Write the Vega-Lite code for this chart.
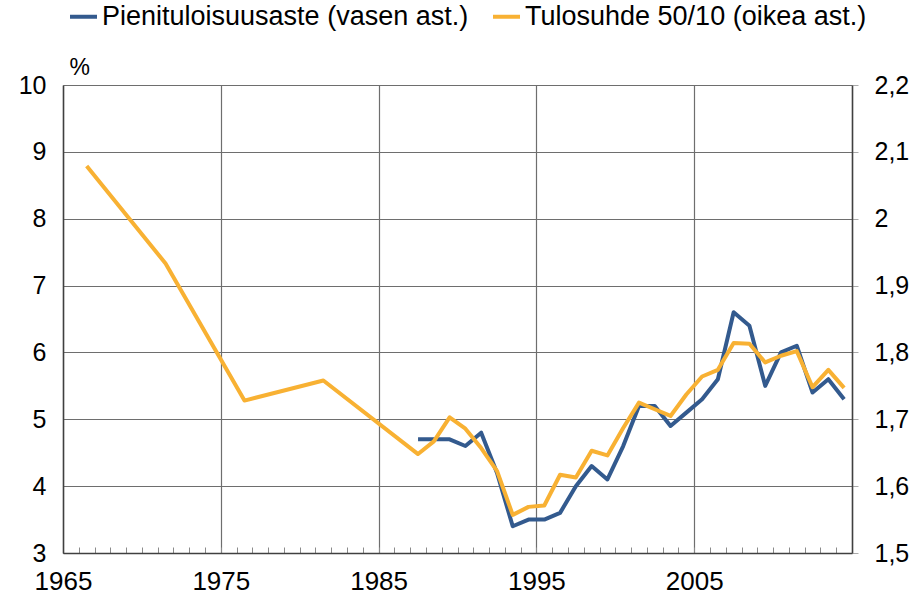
{
  "$schema": "https://vega.github.io/schema/vega-lite/v6.json",
  "width": 789,
  "height": 468,
  "autosize": {"type": "none"},
  "padding": {"left": 63, "top": 85, "right": 66, "bottom": 47},
  "config": {"font": "Liberation Sans", "view": {"stroke": null}},
  "datasets": {
    "pieni": [
      {"vuosi": 1987, "arvo": 4.7}, {"vuosi": 1988, "arvo": 4.7}, {"vuosi": 1989, "arvo": 4.7},
      {"vuosi": 1990, "arvo": 4.6}, {"vuosi": 1991, "arvo": 4.8}, {"vuosi": 1992, "arvo": 4.2},
      {"vuosi": 1993, "arvo": 3.4}, {"vuosi": 1994, "arvo": 3.5}, {"vuosi": 1995, "arvo": 3.5},
      {"vuosi": 1996, "arvo": 3.6}, {"vuosi": 1997, "arvo": 4.0}, {"vuosi": 1998, "arvo": 4.3},
      {"vuosi": 1999, "arvo": 4.1}, {"vuosi": 2000, "arvo": 4.6}, {"vuosi": 2001, "arvo": 5.2},
      {"vuosi": 2002, "arvo": 5.2}, {"vuosi": 2003, "arvo": 4.9}, {"vuosi": 2004, "arvo": 5.1},
      {"vuosi": 2005, "arvo": 5.3}, {"vuosi": 2006, "arvo": 5.6}, {"vuosi": 2007, "arvo": 6.6},
      {"vuosi": 2008, "arvo": 6.4}, {"vuosi": 2009, "arvo": 5.5}, {"vuosi": 2010, "arvo": 6.0},
      {"vuosi": 2011, "arvo": 6.1}, {"vuosi": 2012, "arvo": 5.4}, {"vuosi": 2013, "arvo": 5.6},
      {"vuosi": 2014, "arvo": 5.3}
    ],
    "tulo": [
      {"vuosi": 1966, "arvo": 2.079}, {"vuosi": 1971, "arvo": 1.933}, {"vuosi": 1976, "arvo": 1.728},
      {"vuosi": 1981, "arvo": 1.758}, {"vuosi": 1987, "arvo": 1.648}, {"vuosi": 1988, "arvo": 1.667},
      {"vuosi": 1989, "arvo": 1.703}, {"vuosi": 1990, "arvo": 1.686}, {"vuosi": 1991, "arvo": 1.657},
      {"vuosi": 1992, "arvo": 1.623}, {"vuosi": 1993, "arvo": 1.557}, {"vuosi": 1994, "arvo": 1.569},
      {"vuosi": 1995, "arvo": 1.571}, {"vuosi": 1996, "arvo": 1.617}, {"vuosi": 1997, "arvo": 1.613},
      {"vuosi": 1998, "arvo": 1.653}, {"vuosi": 1999, "arvo": 1.646}, {"vuosi": 2000, "arvo": 1.687},
      {"vuosi": 2001, "arvo": 1.725}, {"vuosi": 2002, "arvo": 1.715}, {"vuosi": 2003, "arvo": 1.705},
      {"vuosi": 2004, "arvo": 1.737}, {"vuosi": 2005, "arvo": 1.764}, {"vuosi": 2006, "arvo": 1.774},
      {"vuosi": 2007, "arvo": 1.814}, {"vuosi": 2008, "arvo": 1.813}, {"vuosi": 2009, "arvo": 1.785},
      {"vuosi": 2010, "arvo": 1.795}, {"vuosi": 2011, "arvo": 1.802}, {"vuosi": 2012, "arvo": 1.748},
      {"vuosi": 2013, "arvo": 1.774}, {"vuosi": 2014, "arvo": 1.747}
    ]
  },
  "encoding": {
    "x": {
      "field": "vuosi",
      "type": "quantitative",
      "scale": {"domain": [1964.5, 2014.5], "nice": false, "zero": false},
      "axis": {
        "title": null,
        "values": [1964.5,1965.5,1966.5,1967.5,1968.5,1969.5,1970.5,1971.5,1972.5,1973.5,1974.5,1975.5,1976.5,1977.5,1978.5,1979.5,1980.5,1981.5,1982.5,1983.5,1984.5,1985.5,1986.5,1987.5,1988.5,1989.5,1990.5,1991.5,1992.5,1993.5,1994.5,1995.5,1996.5,1997.5,1998.5,1999.5,2000.5,2001.5,2002.5,2003.5,2004.5,2005.5,2006.5,2007.5,2008.5,2009.5,2010.5,2011.5,2012.5,2013.5,2014.5],
        "domainColor": "#404040",
        "domainWidth": 1.5,
        "grid": true,
        "gridColor": "#6e6e6e",
        "gridWidth": 1.2,
        "gridOpacity": {"condition": {"test": "(datum.value - 1964.5) % 10 == 0", "value": 1}, "value": 0},
        "tickSize": -6,
        "tickColor": "#8a8a8a",
        "tickWidth": 1,
        "labelExpr": "((datum.value - 1964.5) % 10 == 0 && datum.value < 2010) ? format(datum.value + 0.5, 'd') : ''",
        "labelFontSize": 26,
        "labelColor": "#000000",
        "labelPadding": 21,
        "labelFlush": false,
        "labelOverlap": false
      }
    }
  },
  "layer": [
    {
      "data": {"name": "pieni"},
      "mark": {"type": "line", "strokeWidth": 4, "strokeJoin": "round"},
      "encoding": {
        "y": {
          "field": "arvo",
          "type": "quantitative",
          "scale": {"domain": [3, 10], "nice": false, "zero": false},
          "axis": {
            "orient": "left",
            "values": [3, 4, 5, 6, 7, 8, 9, 10],
            "title": "%",
            "titleAngle": 0,
            "titleX": 6,
            "titleY": -18,
            "titleAlign": "left",
            "titleBaseline": "middle",
            "titleFontSize": 23,
            "titleFontWeight": "normal",
            "titleColor": "#000000",
            "grid": true,
            "gridColor": "#6e6e6e",
            "gridWidth": 1.2,
            "ticks": false,
            "labelPadding": 17,
            "labelFontSize": 25,
            "labelColor": "#000000",
            "domainColor": "#404040",
            "domainWidth": 1.5
          }
        },
        "color": {
          "datum": "Pienituloisuusaste (vasen ast.)",
          "scale": {
            "domain": ["Pienituloisuusaste (vasen ast.)", "Tulosuhde 50/10 (oikea ast.)"],
            "range": ["#335A8E", "#F8B133"]
          },
          "legend": {
            "orient": "none",
            "legendX": 5,
            "legendY": -84,
            "direction": "horizontal",
            "title": null,
            "symbolType": "stroke",
            "symbolStrokeWidth": 4,
            "symbolSize": 729,
            "labelFontSize": 27,
            "labelLimit": 0,
            "labelColor": "#000000",
            "labelOffset": 3,
            "columnPadding": 16
          }
        }
      }
    },
    {
      "data": {"name": "tulo"},
      "mark": {"type": "line", "strokeWidth": 4, "strokeJoin": "round"},
      "encoding": {
        "y": {
          "field": "arvo",
          "type": "quantitative",
          "scale": {"domain": [1.5, 2.2], "nice": false, "zero": false},
          "axis": {
            "orient": "right",
            "values": [1.5, 1.6, 1.7, 1.8, 1.9, 2.0, 2.1, 2.2],
            "title": null,
            "grid": false,
            "ticks": true,
            "tickSize": 6,
            "tickColor": "#aaaaaa",
            "labelPadding": 16,
            "labelFontSize": 25,
            "labelColor": "#000000",
            "labelExpr": "replace(format(datum.value, '.1~f'), '.', ',')",
            "domainColor": "#404040",
            "domainWidth": 1.5
          }
        },
        "color": {"datum": "Tulosuhde 50/10 (oikea ast.)"}
      }
    }
  ],
  "resolve": {"scale": {"y": "independent"}}
}
